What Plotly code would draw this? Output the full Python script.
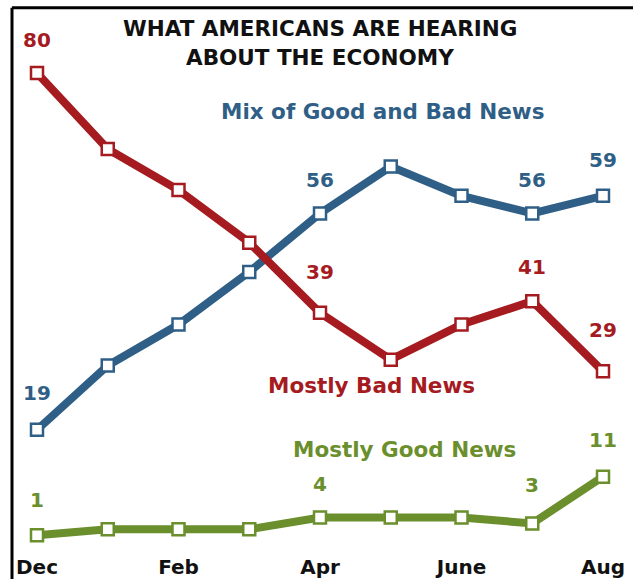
import plotly.graph_objects as go

months = ["Dec", "Jan", "Feb", "Mar", "Apr", "May", "June", "July", "Aug"]
tick_labels = ["Dec", "Feb", "Apr", "June", "Aug"]
mix_news = [19, 30, 37, 46, 56, 64, 59, 56, 59]
bad_news = [80, 67, 60, 51, 39, 31, 37, 41, 29]
good_news = [1, 2, 2, 2, 4, 4, 4, 3, 11]
title_lines = ["WHAT AMERICANS ARE HEARING", "ABOUT THE ECONOMY"]

BLUE = "#2F5F86"
RED = "#A51B1F"
GREEN = "#6A8F2C"
FONT = "DejaVu Sans, Verdana, sans-serif"

W, H = 633, 579
B = 26
PX_X = 70.75
PX_Y = 5.85
X0, Y0 = 37, 541  # pixel of (Dec, 0)

x = list(range(len(months)))
fig = go.Figure()
for vals, col in [(mix_news, BLUE), (bad_news, RED), (good_news, GREEN)]:
    fig.add_trace(go.Scatter(
        x=x, y=vals, mode="lines+markers",
        line=dict(color=col, width=8),
        marker=dict(symbol="square", size=12, color="white", line=dict(color=col, width=2.5)),
        hoverinfo="skip", showlegend=False,
    ))

labels = [
    (bad_news, 0, RED, 33), (bad_news, 4, RED, 41), (bad_news, 7, RED, 34), (bad_news, 8, RED, 41),
    (mix_news, 0, BLUE, 37), (mix_news, 4, BLUE, 33), (mix_news, 7, BLUE, 33), (mix_news, 8, BLUE, 36),
    (good_news, 0, GREEN, 35), (good_news, 4, GREEN, 34), (good_news, 7, GREEN, 38), (good_news, 8, GREEN, 37),
]
for vals, i, col, ys in labels:
    fig.add_annotation(x=i, y=vals[i], text=f"<b>{vals[i]}</b>", showarrow=False,
                       yshift=ys, font=dict(family=FONT, size=20, color=col))

series_names = [
    ("Mix of Good and Bad News", BLUE, 4.89, 73.5),
    ("Mostly Bad News", RED, 4.73, 26.5),
    ("Mostly Good News", GREEN, 5.2, 15.7),
]
for txt, col, xx, yy in series_names:
    fig.add_annotation(x=xx, y=yy, text=f"<b>{txt}</b>", showarrow=False,
                       font=dict(family=FONT, size=21.5, color=col))

for line, ypx in zip(title_lines, [30, 60]):
    fig.add_annotation(xref="paper", yref="paper", x=320 / W, y=1 - ypx / H, yanchor="middle",
                       text=f"<b>{line}</b>", showarrow=False,
                       font=dict(family=FONT, size=21.5, color="#111111"))

# frame: top and left lines
fig.add_shape(type="line", xref="paper", yref="paper", x0=12 / W, x1=1, y0=1 - 8 / H, y1=1 - 8 / H,
              line=dict(color="black", width=3))
fig.add_shape(type="line", xref="paper", yref="paper", x0=12 / W, x1=12 / W, y0=-B / (H - B), y1=1 - 8 / H,
              line=dict(color="black", width=3))

fig.update_layout(
    width=W, height=H,
    margin=dict(l=0, r=0, t=0, b=B, autoexpand=False),
    paper_bgcolor="white", plot_bgcolor="white",
    xaxis=dict(range=[-X0 / PX_X, 8 + (W - X0 - 8 * PX_X) / PX_X], showgrid=False, zeroline=False,
               showline=False, automargin=False,
               tickvals=[0, 2, 4, 6, 8], ticktext=[f"<b>{t}</b>" for t in tick_labels],
               tickfont=dict(family=FONT, size=20, color="#111111"), ticks="", fixedrange=True),
    yaxis=dict(range=[(Y0 - (H - B)) / PX_Y, Y0 / PX_Y], showgrid=False, zeroline=False,
               showline=False, showticklabels=False, automargin=False, fixedrange=True),
)

fig.write_html("out.html", config={"displayModeBar": False},
               post_script="document.body.style.margin='0';document.body.style.padding='0';")
